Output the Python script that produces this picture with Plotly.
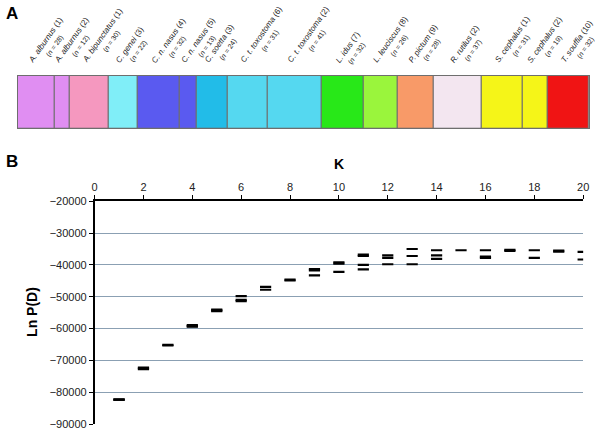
import plotly.graph_objects as go

# Panel A - STRUCTURE assignment per population
species = ["A. alburnus", "A. alburnus", "A. bipunctatus", "C. genei", "C. n. nasus",
           "C. n. nasus", "C. soetta", "C. t. toxostoma", "C. t. toxostoma", "L. idus",
           "L. leuciscus", "P. pictum", "R. rutilus", "S. cephalus", "S. cephalus", "T. souffia"]
pop_ids = [1, 2, 1, 3, 4, 5, 3, 6, 2, 7, 8, 9, 2, 1, 2, 10]
sample_n = [28, 12, 30, 22, 32, 13, 24, 31, 41, 32, 26, 28, 37, 31, 19, 32]
block_colors = ["#e08ef2", "#e08ef2", "#f598bf", "#80eef8", "#5a5af0", "#5a5af0",
                "#22bce8", "#55d8f0", "#55d8f0", "#28e818", "#9af53c", "#f89a68",
                "#f3e6f0", "#f5f518", "#f5f518", "#f01414"]

# Panel B - Ln P(D) per run for each K
k_runs = [1, 1, 1, 2, 2, 2, 3, 3, 4, 4, 4, 5, 5, 5, 6, 6, 6, 7, 7, 8, 8,
          9, 9, 9, 10, 10, 10, 11, 11, 11, 11, 12, 12, 12, 13, 13, 13,
          14, 14, 14, 15, 16, 16, 16, 17, 17, 18, 18, 19, 19, 20, 20]
lnp_runs = [-82300, -82300, -82300, -72200, -72500, -72700, -65100, -65300,
            -58900, -59200, -59400, -54000, -54300, -54500, -49800, -51000, -51400,
            -46900, -47800, -44600, -44900, -41300, -41700, -43300,
            -39200, -39600, -42200, -36800, -37200, -40000, -41400,
            -37000, -37800, -39800, -35000, -37200, -39800,
            -35400, -37000, -38100, -35400, -35400, -37400, -37800,
            -35300, -35600, -35400, -37800, -35500, -35800, -35900, -38300]

FONT = "Arial, Liberation Sans, sans-serif"

left_edges = []
acc = 0
for n in sample_n:
    left_edges.append(acc)
    acc += n
centers = [l + n / 2 for l, n in zip(left_edges, sample_n)]
total_n = acc

fig = go.Figure()

fig.add_trace(go.Bar(
    x=centers, y=[1] * len(sample_n), width=sample_n,
    marker=dict(color=block_colors, line=dict(color="#6e6e6e", width=1)),
    xaxis="x2", yaxis="y2", showlegend=False, hoverinfo="skip",
))

fig.add_trace(go.Scatter(
    x=k_runs, y=lnp_runs, mode="markers",
    marker=dict(symbol="line-ew", size=8, line=dict(color="black", width=2.2)),
    showlegend=False,
))

# rotated population labels
for sp, pid, n, c in zip(species, pop_ids, sample_n, centers):
    fig.add_annotation(
        x=c - 9, y=0.842, xref="x2", yref="paper",
        text=f"<i>{sp}</i> ({pid})<br><span style='font-size:7px'>(<i>n</i> = {n})</span>",
        showarrow=False, textangle=-55, xanchor="left", yanchor="bottom",
        font=dict(family=FONT, size=8, color="#222"),
    )

fig.add_annotation(x=1 / 600, y=1 + 4 / 437, xref="paper", yref="paper", text="<b>A</b>",
                   showarrow=False, xanchor="left", yanchor="top",
                   font=dict(family=FONT, size=17, color="black"))
fig.add_annotation(x=1 / 600, y=1 - 148 / 437, xref="paper", yref="paper", text="<b>B</b>",
                   showarrow=False, xanchor="left", yanchor="top",
                   font=dict(family=FONT, size=17, color="black"))
fig.add_annotation(x=10, y=1 - 162 / 437, xref="x", yref="paper", text="<b>K</b>",
                   showarrow=False, xanchor="center", yanchor="middle",
                   font=dict(family=FONT, size=14, color="black"))
fig.add_annotation(x=30 / 600, y=1 - 315 / 437, xref="paper", yref="paper", text="<b>Ln P(D)</b>",
                   showarrow=False, textangle=-90, xanchor="center", yanchor="middle",
                   font=dict(family=FONT, size=14, color="black"))

fig.update_layout(
    width=600, height=437,
    margin=dict(l=0, r=0, t=0, b=0),
    paper_bgcolor="white", plot_bgcolor="white",
    bargap=0,
    font=dict(family=FONT, size=11, color="#222"),
    xaxis=dict(
        domain=[93 / 600, 589 / 600], range=[0, 20], side="top", anchor="y",
        tickmode="linear", tick0=0, dtick=2, ticks="outside", ticklen=4,
        tickcolor="black", showline=True, linecolor="black", linewidth=1.5,
        showgrid=False, zeroline=False, tickfont=dict(size=11),
    ),
    yaxis=dict(
        domain=[1 - 430 / 437, 1 - 200.7 / 437], range=[-90000, -20000],
        tickmode="linear", tick0=-90000, dtick=10000, ticks="outside", ticklen=4,
        tickcolor="black", showline=True, linecolor="black", linewidth=1.5,
        showgrid=True, gridcolor="#8ba0b3", gridwidth=1, zeroline=False,
        tickformat="d", tickfont=dict(size=11),
    ),
    xaxis2=dict(
        domain=[15 / 600, 595 / 600], range=[0, total_n], anchor="y2",
        showticklabels=False, ticks="", showgrid=False, zeroline=False,
        showline=True, mirror=True, linecolor="#6e6e6e", linewidth=1,
    ),
    yaxis2=dict(
        domain=[1 - 125.7 / 437, 1 - 71.7 / 437], range=[0, 1], anchor="x2",
        showticklabels=False, ticks="", showgrid=False, zeroline=False,
        showline=True, mirror=True, linecolor="#6e6e6e", linewidth=1,
    ),
)

fig.write_html("out.html", config={"displayModeBar": False},
               post_script="document.body.style.margin='0';")
